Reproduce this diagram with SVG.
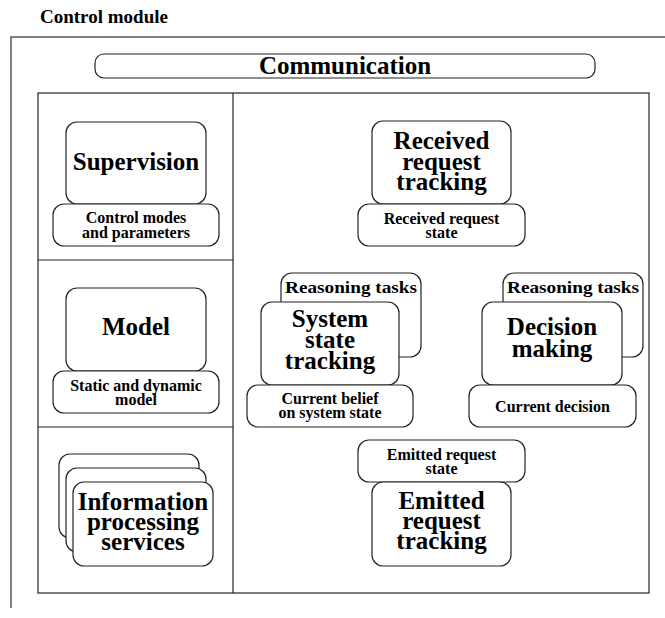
<svg xmlns="http://www.w3.org/2000/svg" width="665" height="618" viewBox="0 0 665 618">
  <style>
    text { font-family: "Liberation Serif", "Times New Roman", serif; font-weight: bold; fill: #000; text-anchor: middle; }
    .title { font-size: 19px; text-anchor: start; }
    .big { font-size: 25px; }
    .small { font-size: 16px; }
    .task { font-size: 17px; }
    .box { fill: #fff; stroke: #222; stroke-width: 1.2; }
    .cell { fill: none; stroke: #222; stroke-width: 1.2; }
    .frame { fill: none; stroke: #808080; stroke-width: 2; }
  </style>

  <!-- module title and open frame -->
  <text class="title" x="40" y="23">Control module</text>
  <path class="frame" d="M665 37 H11 V608"/>

  <!-- communication bar -->
  <g id="communication">
    <rect class="box" x="95" y="54" width="500" height="24" rx="9"/>
    <text class="big" x="345" y="74">Communication</text>
  </g>

  <!-- layout grid -->
  <g id="grid">
    <rect class="cell" x="38" y="93" width="611" height="500"/>
    <line class="cell" x1="233" y1="93" x2="233" y2="593"/>
    <line class="cell" x1="38" y1="260" x2="233" y2="260"/>
    <line class="cell" x1="38" y1="427" x2="233" y2="427"/>
  </g>

  <g id="supervision">
    <rect class="box" x="66" y="122" width="140" height="82" rx="11"/>
    <text class="big" x="136" y="170">Supervision</text>
  </g>
  <g id="control-modes">
    <rect class="box" x="53" y="204" width="166" height="42" rx="11"/>
    <text class="small" x="136" y="223">Control modes</text>
    <text class="small" x="136" y="238">and parameters</text>
  </g>

  <g id="model">
    <rect class="box" x="66" y="288" width="140" height="83" rx="11"/>
    <text class="big" x="136" y="335">Model</text>
  </g>
  <g id="static-dynamic-model">
    <rect class="box" x="53" y="371" width="166" height="42" rx="11"/>
    <text class="small" x="136" y="391">Static and dynamic</text>
    <text class="small" x="136" y="405">model</text>
  </g>

  <g id="information-processing">
    <rect class="box" x="59" y="454" width="140" height="84" rx="11"/>
    <rect class="box" x="66" y="468" width="140" height="84" rx="11"/>
    <rect class="box" x="73" y="482" width="140" height="84" rx="11"/>
    <text class="big" x="143" y="510">Information</text>
    <text class="big" x="143" y="530">processing</text>
    <text class="big" x="143" y="550">services</text>
  </g>

  <g id="received-request-tracking">
    <rect class="box" x="372" y="121" width="139" height="83" rx="11"/>
    <text class="big" x="441.5" y="149">Received</text>
    <text class="big" x="441.5" y="170">request</text>
    <text class="big" x="441.5" y="190">tracking</text>
  </g>
  <g id="received-request-state">
    <rect class="box" x="358" y="204" width="167" height="42" rx="11"/>
    <text class="small" x="441.5" y="224">Received request</text>
    <text class="small" x="441.5" y="238">state</text>
  </g>

  <g id="system-reasoning-tasks">
    <rect class="box" x="281" y="273" width="140" height="84" rx="11"/>
    <text class="task" x="351" y="293" textLength="132" lengthAdjust="spacingAndGlyphs">Reasoning tasks</text>
  </g>
  <g id="system-state-tracking">
    <rect class="box" x="261" y="302" width="138" height="83" rx="11"/>
    <text class="big" x="330" y="327">System</text>
    <text class="big" x="330" y="348">state</text>
    <text class="big" x="330" y="369">tracking</text>
  </g>
  <g id="current-belief">
    <rect class="box" x="247" y="385" width="166" height="42" rx="11"/>
    <text class="small" x="330" y="404">Current belief</text>
    <text class="small" x="330" y="418">on system state</text>
  </g>

  <g id="decision-reasoning-tasks">
    <rect class="box" x="503" y="273" width="140" height="84" rx="11"/>
    <text class="task" x="573" y="293" textLength="132" lengthAdjust="spacingAndGlyphs">Reasoning tasks</text>
  </g>
  <g id="decision-making">
    <rect class="box" x="482" y="302" width="140" height="83" rx="11"/>
    <text class="big" x="552" y="335">Decision</text>
    <text class="big" x="552" y="357">making</text>
  </g>
  <g id="current-decision">
    <rect class="box" x="469" y="385" width="167" height="42" rx="11"/>
    <text class="small" x="552.5" y="412">Current decision</text>
  </g>

  <g id="emitted-request-state">
    <rect class="box" x="358" y="440" width="167" height="42" rx="11"/>
    <text class="small" x="441.5" y="460">Emitted request</text>
    <text class="small" x="441.5" y="474">state</text>
  </g>
  <g id="emitted-request-tracking">
    <rect class="box" x="372" y="482" width="139" height="84" rx="11"/>
    <text class="big" x="441.5" y="509">Emitted</text>
    <text class="big" x="441.5" y="529">request</text>
    <text class="big" x="441.5" y="549">tracking</text>
  </g>

  <!-- no connectors in this view -->
  <g id="connectors"/>
</svg>
